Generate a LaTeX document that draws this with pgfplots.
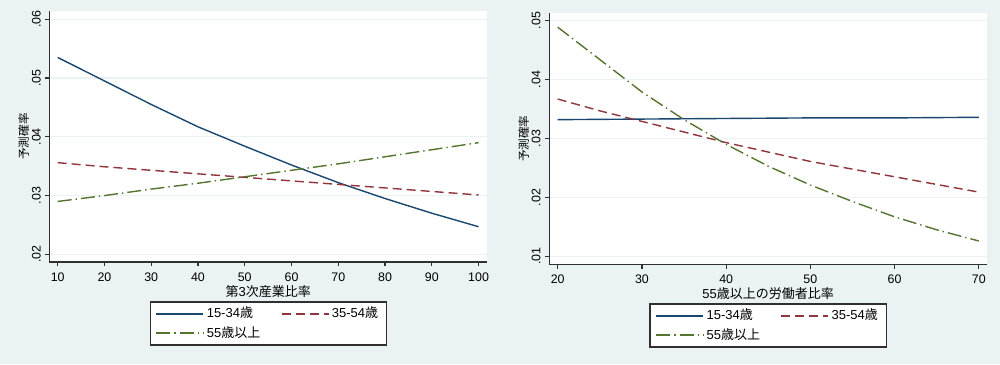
\documentclass[border=0pt]{standalone}
\usepackage{pgfplots}
\pgfplotsset{compat=1.18}
\usepackage{fontspec}
\setmainfont{Liberation Sans}
\newfontfamily\cjk{Noto Sans CJK JP}
\definecolor{bgc}{HTML}{EAF2F3}
\definecolor{snavy}{HTML}{1A476F}
\definecolor{smaroon}{HTML}{90353B}
\definecolor{sgreen}{HTML}{55752F}
\definecolor{axc}{HTML}{303030}
\pgfplotsset{
  stata/.style={
    scale only axis, width=218.75pt, height=125.5pt,
    axis background/.style={fill=white},
    axis x line*=bottom, axis y line*=left,
    axis line style={axc, line width=0.6pt},
    tick style={axc, line width=0.6pt},
    tick align=outside, major tick length=2.2pt,
    scaled y ticks=false, scaled x ticks=false,
    ymajorgrids, grid style={bgc, line width=0.6pt},
    /pgf/number format/assume math mode=true,
    tick label style={font=\fontsize{6.2}{7}\selectfont},
    yticklabel style={rotate=90, anchor=south, inner sep=1pt, yshift=1pt},
    xticklabel style={inner sep=1pt, yshift=-2pt},
    label style={font=\fontsize{6.5}{7.5}\selectfont},
    ylabel style={font=\fontsize{5.8}{7}\selectfont, at={(axis description cs:0,0.5)}, yshift=12.85pt, anchor=center},
    xlabel style={at={(axis description cs:0.5,0)}, yshift=-14.85pt, anchor=center},
    legend columns=2,
    legend cell align=left,
    legend style={font=\fontsize{6.5}{7.5}\selectfont, draw=axc, line width=0.6pt, fill=white,
      anchor=center, inner xsep=2.8pt, inner ysep=1.2pt, row sep=0pt,
      /tikz/every even column/.append style={column sep=9pt},
      nodes={inner sep=1.3pt}},
    legend image code/.code={\draw[#1, line width=0.7pt] (0pt,0pt) -- (23.5pt,0pt);},
    every axis plot/.append style={line width=0.7pt, mark=none},
  }
}
\begin{document}
\begin{tikzpicture}[x=1pt,y=1pt]
\fill[bgc] (0,0) rectangle (500,182);
\begin{axis}[stata, at={(24.75pt,51pt)}, anchor=south west,
  xmin=8.25, xmax=101.8, ymin=0.0187, ymax=0.0614,
  xtick={10,20,30,40,50,60,70,80,90,100},
  ytick={0.02,0.03,0.04,0.05,0.06},
  yticklabels={.02,.03,.04,.05,.06},
  xlabel={{\cjk 第}3{\cjk 次産業比率}},
  ylabel={\cjk 予測確率},
  legend style={at={(axis description cs:0.5,-0.245)}},
]
\addplot[snavy] coordinates {(10,0.0535) (20,0.0495) (30,0.0455) (40,0.0417) (50,0.0384) (60,0.0352) (70,0.0322) (80,0.0295) (90,0.0270) (100,0.0247)};
\addlegendentry{15-34{\cjk 歳}}
\addplot[smaroon, dash pattern=on 4.5pt off 2.5pt] coordinates {(10,0.0356) (20,0.0349) (30,0.0343) (40,0.0337) (50,0.0331) (60,0.0325) (70,0.0319) (80,0.0313) (90,0.0307) (100,0.0301)};
\addlegendentry{35-54{\cjk 歳}}
\addplot[sgreen, dash pattern=on 7pt off 2pt on 0.7pt off 2pt] coordinates {(10,0.0290) (20,0.0300) (30,0.0311) (40,0.0321) (50,0.0332) (60,0.0343) (70,0.0354) (80,0.0366) (90,0.0378) (100,0.0390)};
\addlegendentry{55{\cjk 歳以上}}
\end{axis}
\begin{axis}[stata, at={(274.65pt,49.85pt)}, anchor=south west,
  xmin=19.0, xmax=70.95, ymin=0.00864, ymax=0.05126,
  xtick={20,30,40,50,60,70},
  ytick={0.01,0.02,0.03,0.04,0.05},
  yticklabels={.01,.02,.03,.04,.05},
  xlabel={55{\cjk 歳以上の労働者比率}},
  ylabel={\cjk 予測確率},
  legend style={at={(axis description cs:0.5,-0.244)}},
]
\addplot[snavy] coordinates {(20,0.0332) (30,0.0333) (40,0.0334) (50,0.0335) (60,0.0335) (70,0.0336)};
\addlegendentry{15-34{\cjk 歳}}
\addplot[smaroon, dash pattern=on 4.5pt off 2.5pt] coordinates {(20,0.0367) (25,0.0347) (30,0.0329) (35,0.0311) (40,0.0293) (45,0.0277) (50,0.0261) (55,0.0248) (60,0.0235) (65,0.0222) (70,0.0209)};
\addlegendentry{35-54{\cjk 歳}}
\addplot[sgreen, dash pattern=on 7pt off 2pt on 0.7pt off 2pt] coordinates {(20,0.0489) (25,0.0434) (30,0.0379) (35,0.0332) (40,0.0290) (45,0.0253) (50,0.0221) (55,0.0193) (60,0.0167) (65,0.0145) (70,0.0126)};
\addlegendentry{55{\cjk 歳以上}}
\end{axis}
\end{tikzpicture}
\end{document}
